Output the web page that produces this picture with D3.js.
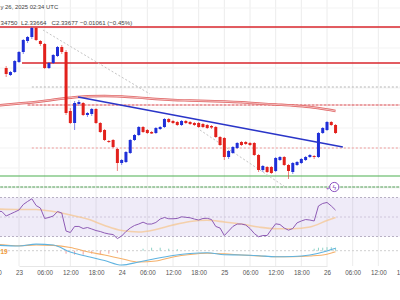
<!DOCTYPE html>
<html>
<head>
<meta charset="utf-8">
<title>Hourly price chart</title>
<script src="https://d3js.org/d3.v7.min.js"></script>
<style>
  body { margin: 0; background: #fff; }
  svg { display: block; font-family: "Liberation Sans", Arial, sans-serif; }
</style>
</head>
<body>
<svg id="chart" width="400" height="300"></svg>
<script>
// hourly candles, time = hours after 23 Feb 00:00 UTC, first candle at -3
const candleStart = -3;
const opens = [
  2.400, 2.393, 2.396, 2.406, 2.416, 2.427, 2.431, 2.440, 2.427, 2.424,
  2.400, 2.405, 2.412, 2.421, 2.416, 2.357, 2.345, 2.364, 2.365, 2.353,
  2.354, 2.359, 2.345, 2.338, 2.327, 2.328, 2.319, 2.305, 2.306, 2.315,
  2.328, 2.333, 2.341, 2.338, 2.336, 2.335, 2.339, 2.341, 2.349, 2.347,
  2.346, 2.343, 2.347, 2.346, 2.345, 2.345, 2.344, 2.343, 2.342, 2.341,
  2.331, 2.330, 2.311, 2.315, 2.320, 2.326, 2.326, 2.325, 2.325, 2.313,
  2.298, 2.301, 2.301, 2.297, 2.308, 2.311, 2.303, 2.296, 2.303, 2.305,
  2.308, 2.311, 2.312, 2.311, 2.335, 2.338, 2.346, 2.343];
const highs = [
  2.402, 2.397, 2.408, 2.417, 2.429, 2.432, 2.441, 2.441, 2.428, 2.425,
  2.406, 2.414, 2.422, 2.423, 2.418, 2.360, 2.367, 2.368, 2.366, 2.356,
  2.360, 2.360, 2.346, 2.339, 2.328, 2.329, 2.320, 2.309, 2.317, 2.329,
  2.334, 2.342, 2.342, 2.339, 2.337, 2.341, 2.342, 2.350, 2.350, 2.348,
  2.347, 2.348, 2.348, 2.347, 2.346, 2.346, 2.345, 2.344, 2.343, 2.342,
  2.332, 2.331, 2.318, 2.322, 2.326, 2.327, 2.327, 2.326, 2.326, 2.314,
  2.303, 2.302, 2.302, 2.311, 2.312, 2.312, 2.304, 2.306, 2.307, 2.310,
  2.312, 2.314, 2.313, 2.336, 2.341, 2.347, 2.347, 2.344];
const lows = [
  2.391, 2.392, 2.395, 2.405, 2.414, 2.425, 2.429, 2.427, 2.422, 2.399,
  2.399, 2.404, 2.411, 2.414, 2.353, 2.344, 2.338, 2.362, 2.352, 2.351,
  2.352, 2.344, 2.335, 2.327, 2.325, 2.320, 2.297, 2.303, 2.305, 2.314,
  2.327, 2.332, 2.335, 2.334, 2.334, 2.334, 2.338, 2.340, 2.345, 2.344,
  2.342, 2.342, 2.344, 2.343, 2.342, 2.340, 2.340, 2.339, 2.339, 2.330,
  2.322, 2.308, 2.309, 2.314, 2.319, 2.322, 2.323, 2.322, 2.312, 2.296,
  2.296, 2.295, 2.294, 2.296, 2.307, 2.302, 2.289, 2.294, 2.302, 2.304,
  2.307, 2.310, 2.309, 2.310, 2.334, 2.337, 2.342, 2.334];
const closes = [
  2.394, 2.396, 2.407, 2.416, 2.428, 2.431, 2.440, 2.428, 2.424, 2.400,
  2.405, 2.413, 2.421, 2.416, 2.355, 2.345, 2.365, 2.366, 2.353, 2.355,
  2.359, 2.345, 2.336, 2.328, 2.326, 2.321, 2.305, 2.308, 2.316, 2.328,
  2.333, 2.341, 2.336, 2.335, 2.3345, 2.340, 2.341, 2.349, 2.346, 2.345,
  2.343, 2.347, 2.345, 2.344, 2.343, 2.341, 2.341, 2.340, 2.3405, 2.331,
  2.323, 2.311, 2.317, 2.321, 2.325, 2.323, 2.324, 2.323, 2.313, 2.298,
  2.302, 2.296, 2.295, 2.310, 2.311, 2.303, 2.297, 2.305, 2.306, 2.309,
  2.311, 2.313, 2.311, 2.335, 2.340, 2.346, 2.343, 2.335];

// RSI per candle, first value at -5
const rsiStart = -5;
const rsi = [
  56.0, 55.6, 51.0, 53.1, 55.1, 57.2, 62.8, 65.9, 68.7, 61.8,
  59.2, 48.5, 49.5, 51.0, 55.6, 54.1, 35.6, 34.1, 40.3, 40.3,
  38.2, 39.2, 37.7, 36.1, 35.1, 33.6, 32.6, 32.0, 27.9, 30.5,
  35.1, 38.7, 41.3, 42.8, 44.7, 42.8, 42.8, 44.4, 47.9, 49.5,
  48.2, 48.2, 48.5, 50.2, 49.7, 49.2, 47.9, 46.9, 48.5, 48.7,
  47.4, 40.3, 38.7, 31.0, 35.6, 40.3, 42.8, 42.8, 41.8, 38.2,
  33.1, 29.7, 31.0, 31.0, 37.2, 43.0, 42.3, 38.7, 36.5, 38.2,
  44.0, 45.9, 47.4, 46.9, 45.9, 61.3, 63.9, 64.9, 61.3, 57.0];

// slower lines, read every few hours
const smoothT = [-5, 0, 4, 8, 12, 16, 20, 24, 28, 32, 36, 40, 44, 48, 52, 56, 60, 64, 68, 72, 74];
const priceMa = [2.3625, 2.3645, 2.366, 2.3683, 2.3703, 2.3717, 2.372, 2.3715, 2.3704, 2.369, 2.368,
  2.3675, 2.367, 2.3665, 2.3657, 2.3645, 2.3635, 2.3625, 2.361, 2.3585, 2.357];
const rsiMa = [58.2, 57.7, 57.7, 55.6, 52.1, 47.9, 41.3, 36.1, 34.6, 37.2, 41.8,
  45.4, 46.6, 44.9, 42.8, 39.7, 37.9, 37.9, 39.7, 46.4, 49.5];
const macd = [0.0055, 0.0047, 0.0066, 0.0057, -0.0013, -0.0058, -0.0098, -0.0143, -0.0113, -0.0078, -0.0048,
  -0.0028, -0.0021, -0.0040, -0.0043, -0.0050, -0.0060, -0.0058, -0.0043, -0.0003, 0.0024];
const signal = [0.0064, 0.0049, 0.0057, 0.0053, 0.0032, -0.0011, -0.0043, -0.0080, -0.0113, -0.0103, -0.0063,
  -0.0038, -0.0026, -0.0032, -0.0043, -0.0052, -0.0060, -0.0060, -0.0053, -0.0035, -0.0011];
const histT = [11, 13, 15, 17, 19, 21, 23, 29, 31, 33, 35, 37, 69, 70, 71, 72, 73, 74];
const histV = [-0.003, -0.004, -0.004, -0.003, -0.004, -0.003, -0.002, 0.002, 0.003, 0.003, 0.002, 0.0015,
  0.002, 0.003, 0.003, 0.0035, 0.0035, 0.003];

// horizontal levels and drawn lines
const levelPrices = [2.441, 2.405, 2.381, 2.363, 2.320, 2.292, 2.281];
const levelFrom = [-10, 0.7, 3, 2, 3, -10, -10];
const levelKinds = ["red", "red", "grey", "redDash", "pink", "green", "greenDash"];
const trendT = [13.8, 75.7];
const trendP = [2.371, 2.321];
const guideA_T = [5.6, 30.6];
const guideA_P = [2.438, 2.374];
const guideB_T = [42.3, 62.6];
const guideB_P = [2.338, 2.280];

// axis
const tickTimes = [-6, 0, 6, 12, 18, 24, 30, 36, 42, 48, 54, 60, 66, 72, 78, 84, 90];
const tickLabels = ["18:00", "23", "06:00", "12:00", "18:00", "24", "06:00", "12:00", "18:00",
  "25", "06:00", "12:00", "18:00", "26", "06:00", "12:00", "18:00"];

// header, as far as it is visible in the crop
const headerDate = "y 26, 2025 02:34 UTC";
const headerValues = ["34750", "L2.33664", "C2.33677", "\u22120.01061 (\u22120.45%)"];

// ---------------------------------------------------------------
const width = 400, height = 300;
const axisY = 266;
const svg = d3.select("#chart");

const x = d3.scaleLinear().domain([0, 72]).range([19, 327]);
const y = d3.scaleLinear().domain([2.2, 2.5]).range([268, -32]);
const yRsi = d3.scaleLinear().domain([30, 70]).range([236.5, 197.5]);
const yMacd = d3.scaleLinear().domain([-0.015, 0.005]).range([265.7, 245.7]);

const blue = "#1f2fd8", red = "#e2211c";

svg.append("defs").append("clipPath").attr("id", "plot")
  .append("rect").attr("x", 0).attr("y", 0).attr("width", width).attr("height", axisY);

const plot = svg.append("g").attr("clip-path", "url(#plot)");

// grid
plot.append("g").selectAll("line").data(tickTimes).join("line")
  .attr("x1", d => x(d)).attr("x2", d => x(d))
  .attr("y1", 0).attr("y2", axisY)
  .attr("stroke", "#ececec").attr("stroke-width", 1);

plot.append("g").selectAll("line").data(d3.range(2.28, 2.47, 0.02)).join("line")
  .attr("x1", 0).attr("x2", width)
  .attr("y1", d => y(d)).attr("y2", d => y(d))
  .attr("stroke", "#f3f3f3");

// RSI band
plot.append("rect")
  .attr("x", 0).attr("width", width)
  .attr("y", yRsi(70)).attr("height", yRsi(30) - yRsi(70))
  .attr("fill", "#7e57c2").attr("fill-opacity", 0.12);
plot.append("g").selectAll("line").data([70, 50, 30]).join("line")
  .attr("x1", 0).attr("x2", width)
  .attr("y1", d => yRsi(d)).attr("y2", d => yRsi(d))
  .attr("stroke", d => d === 50 ? "#cfc6dc" : "#b8b0c4")
  .attr("stroke-dasharray", "2,2");

// levels
const levelStyle = {
  red: {color: "#d8262c", w: 1.6, dash: null},
  redDash: {color: "#d8454a", w: 1.1, dash: "3,1"},
  grey: {color: "#b5b5b5", w: 1, dash: "2,2"},
  pink: {color: "#ef9a9a", w: 1, dash: "2,2"},
  green: {color: "#4caf50", w: 1.2, dash: null},
  greenDash: {color: "#4c9a50", w: 1.1, dash: "3,1"}
};
levelPrices.forEach((p, i) => {
  const s = levelStyle[levelKinds[i]];
  plot.append("line")
    .attr("x1", x(levelFrom[i])).attr("x2", width)
    .attr("y1", y(p)).attr("y2", y(p))
    .attr("stroke", s.color).attr("stroke-width", s.w)
    .attr("stroke-dasharray", s.dash);
});

// moving average (double line look)
const maLine = d3.line().curve(d3.curveMonotoneX)
  .x((d, i) => x(smoothT[i])).y(d => y(d));
plot.append("path").attr("d", maLine(priceMa))
  .attr("fill", "none").attr("stroke", "#e06666").attr("stroke-width", 2.4);
plot.append("path").attr("d", maLine(priceMa))
  .attr("fill", "none").attr("stroke", "#fbe3e3").attr("stroke-width", 0.7);

// guide lines
[[guideA_T, guideA_P], [guideB_T, guideB_P]].forEach(g => {
  plot.append("line")
    .attr("x1", x(g[0][0])).attr("y1", y(g[1][0]))
    .attr("x2", x(g[0][1])).attr("y2", y(g[1][1]))
    .attr("stroke", "#c4c4c4").attr("stroke-dasharray", "2,2");
});

// candles
const candles = opens.map((o, i) => ({
  t: candleStart + i, o: o, h: highs[i], l: lows[i], c: closes[i]
}));
const cg = plot.append("g").selectAll("g").data(candles).join("g");
cg.append("line")
  .attr("x1", d => x(d.t)).attr("x2", d => x(d.t))
  .attr("y1", d => y(d.h)).attr("y2", d => y(d.l))
  .attr("stroke", d => d.c >= d.o ? blue : red)
  .attr("stroke-opacity", 0.55);
cg.append("rect")
  .attr("x", d => x(d.t) - 1.5).attr("width", 3)
  .attr("y", d => y(Math.max(d.o, d.c)))
  .attr("height", d => Math.max(1, Math.abs(y(d.o) - y(d.c))))
  .attr("fill", d => d.c >= d.o ? blue : red);

// trend line
plot.append("line")
  .attr("x1", x(trendT[0])).attr("y1", y(trendP[0]))
  .attr("x2", x(trendT[1])).attr("y2", y(trendP[1]))
  .attr("stroke", "#2a35c8").attr("stroke-width", 1.6);

// RSI
plot.append("path")
  .attr("d", d3.line().curve(d3.curveMonotoneX).x((d, i) => x(smoothT[i])).y(d => yRsi(d))(rsiMa))
  .attr("fill", "none").attr("stroke", "#f6c48a").attr("stroke-opacity", 0.7).attr("stroke-width", 1.6);
plot.append("path")
  .attr("d", d3.line().x((d, i) => x(rsiStart + i)).y(d => yRsi(d))(rsi))
  .attr("fill", "none").attr("stroke", "#8e5bb5").attr("stroke-width", 1);

// MACD
plot.append("line")
  .attr("x1", 0).attr("x2", width).attr("y1", yMacd(0)).attr("y2", yMacd(0))
  .attr("stroke", "#cfcfcf").attr("stroke-dasharray", "2,2");
plot.append("g").selectAll("rect").data(histV).join("rect")
  .attr("x", (d, i) => x(histT[i]) - 0.5).attr("width", 1)
  .attr("y", d => Math.min(yMacd(d), yMacd(0)))
  .attr("height", d => Math.abs(yMacd(d) - yMacd(0)))
  .attr("fill", d => d < 0 ? "#f0a0a0" : "#8fd3c8");
const macdLine = d3.line().curve(d3.curveMonotoneX).x((d, i) => x(smoothT[i])).y(d => yMacd(d));
plot.append("path").attr("d", macdLine(signal))
  .attr("fill", "none").attr("stroke", "#f5b06a").attr("stroke-width", 1.1);
plot.append("path").attr("d", macdLine(macd))
  .attr("fill", "none").attr("stroke", "#5fb3e0").attr("stroke-width", 1.1);
svg.append("text").attr("x", 0.5).attr("y", yMacd(0) + 3)
  .attr("font-size", 6.5).attr("font-weight", "bold").attr("fill", "#f09a3a").text("19");

// alert icon
const icon = svg.append("g").attr("transform", `translate(${x(73.7)},${y(2.281)})`);
icon.append("circle").attr("r", 4.6).attr("fill", "#fff").attr("stroke", "#8a4fc0").attr("stroke-width", 1);
icon.append("text").attr("text-anchor", "middle").attr("y", 2.5)
  .attr("font-size", 7).attr("fill", "#8a4fc0").text("\u03DF");
icon.append("text").attr("x", -6.5).attr("y", 2.5).attr("text-anchor", "middle")
  .attr("font-size", 6).attr("fill", "#8a4fc0").text("+");

// x axis
const axis = d3.axisBottom(x).tickValues(tickTimes).tickSize(0).tickPadding(5)
  .tickFormat((d, i) => tickLabels[i]);
svg.append("g").attr("transform", `translate(0,${axisY})`).call(axis)
  .call(g => g.select(".domain").attr("stroke", "#e6e6e6"))
  .call(g => g.selectAll("text").attr("font-size", 6.3).attr("fill", "#555")
    .attr("font-family", "Liberation Sans, Arial, sans-serif"));

// header
svg.append("text").attr("x", 0.5).attr("y", 9)
  .attr("font-size", 5.9).attr("fill", "#444").text(headerDate);
const headerX = [0.5, 21, 51.5, 80];
headerValues.forEach((s, i) => {
  svg.append("text").attr("x", headerX[i]).attr("y", 24.5)
    .attr("font-size", 6.1).attr("fill", "#444").text(s);
});
</script>
</body>
</html>
